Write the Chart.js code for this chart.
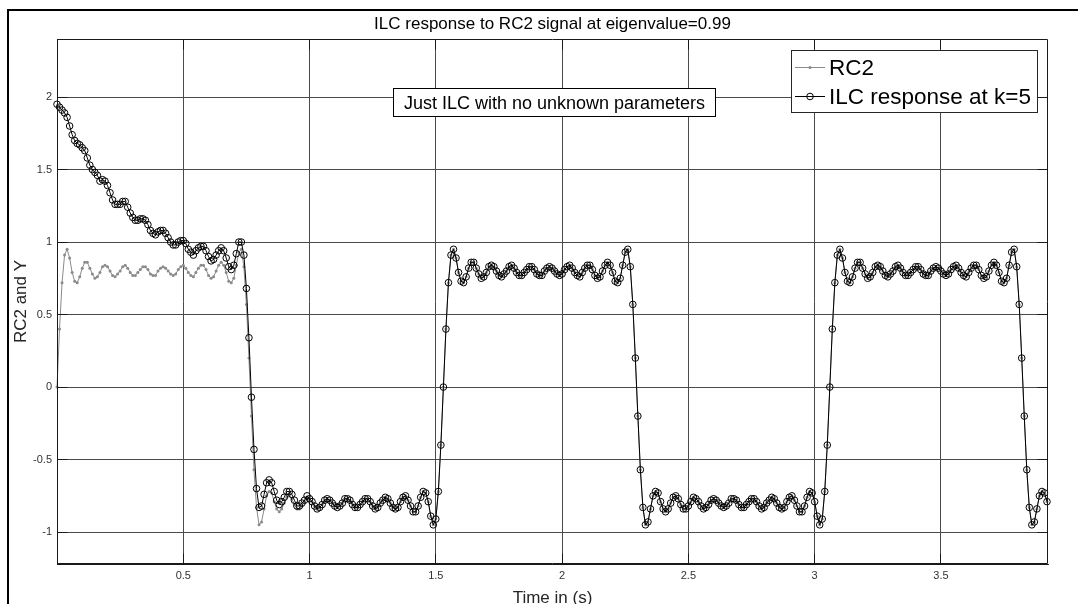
<!DOCTYPE html>
<html>
<head>
<meta charset="utf-8">
<script src="https://cdn.jsdelivr.net/npm/chart.js@4.4.1/dist/chart.umd.min.js"></script>
<style>
  html, body { margin: 0; padding: 0; background: #fff; }
  canvas { display: block; }
</style>
</head>
<body>
<canvas id="c" width="1078" height="604"></canvas>
<script>
// Sampling interval of both signals, in seconds
const sampleStep = 0.01;

// Reference signal RC2 (band-limited square wave), one value per sample
const rc2 = [
  0.00,0.40,0.72,0.91,0.95,0.89,0.79,0.73,0.72,0.76,
  0.82,0.86,0.86,0.82,0.78,0.75,0.76,0.79,0.83,0.84,
  0.83,0.80,0.77,0.76,0.78,0.80,0.83,0.84,0.82,0.79,
  0.77,0.77,0.79,0.81,0.83,0.83,0.81,0.78,0.77,0.77,
  0.80,0.82,0.83,0.82,0.80,0.78,0.77,0.78,0.81,0.83,
  0.84,0.82,0.79,0.77,0.76,0.79,0.82,0.84,0.84,0.81,
  0.77,0.75,0.76,0.80,0.84,0.86,0.84,0.79,0.73,0.72,
  0.75,0.84,0.93,0.95,0.83,0.57,0.20,
  -0.20,-0.57,-0.83,-0.95,-0.93,-0.84,-0.75,-0.72,-0.73,-0.79,
  -0.84,-0.86,-0.84,-0.80,-0.76,-0.75,-0.77,-0.81,-0.84,-0.84,
  -0.82,-0.79,-0.76,-0.77,-0.79,-0.82,-0.84,-0.83,-0.81,-0.78,
  -0.77,-0.78,-0.80,-0.82,-0.83,-0.82,-0.80,-0.77,-0.77,-0.78,
  -0.81,-0.83,-0.83,-0.81,-0.79,-0.77,-0.77,-0.79,-0.82,-0.84,
  -0.83,-0.80,-0.78,-0.76,-0.77,-0.80,-0.83,-0.84,-0.83,-0.79,
  -0.76,-0.75,-0.78,-0.82,-0.86,-0.86,-0.82,-0.76,-0.72,-0.73,
  -0.79,-0.89,-0.95,-0.91,-0.72,-0.40,
  0.00,0.40,0.72,0.91,0.95,0.89,0.79,0.73,0.72,0.76,
  0.82,0.86,0.86,0.82,0.78,0.75,0.76,0.79,0.83,0.84,
  0.83,0.80,0.77,0.76,0.78,0.80,0.83,0.84,0.82,0.79,
  0.77,0.77,0.79,0.81,0.83,0.83,0.81,0.78,0.77,0.77,
  0.80,0.82,0.83,0.82,0.80,0.78,0.77,0.78,0.81,0.83,
  0.84,0.82,0.79,0.77,0.76,0.79,0.82,0.84,0.84,0.81,
  0.77,0.75,0.76,0.80,0.84,0.86,0.84,0.79,0.73,0.72,
  0.75,0.84,0.93,0.95,0.83,0.57,0.20,
  -0.20,-0.57,-0.83,-0.95,-0.93,-0.84,-0.75,-0.72,-0.73,-0.79,
  -0.84,-0.86,-0.84,-0.80,-0.76,-0.75,-0.77,-0.81,-0.84,-0.84,
  -0.82,-0.79,-0.76,-0.77,-0.79,-0.82,-0.84,-0.83,-0.81,-0.78,
  -0.77,-0.78,-0.80,-0.82,-0.83,-0.82,-0.80,-0.77,-0.77,-0.78,
  -0.81,-0.83,-0.83,-0.81,-0.79,-0.77,-0.77,-0.79,-0.82,-0.84,
  -0.83,-0.80,-0.78,-0.76,-0.77,-0.80,-0.83,-0.84,-0.83,-0.79,
  -0.76,-0.75,-0.78,-0.82,-0.86,-0.86,-0.82,-0.76,-0.72,-0.73,
  -0.79,-0.89,-0.95,-0.91,-0.72,-0.40,
  0.00,0.40,0.72,0.91,0.95,0.89,0.79,0.73,0.72,0.76,
  0.82,0.86,0.86,0.82,0.78,0.75,0.76,0.79,0.83,0.84,
  0.83,0.80,0.77,0.76,0.78,0.80,0.83,0.84,0.82,0.79,
  0.77,0.77,0.79,0.81,0.83,0.83,0.81,0.78,0.77,0.77,
  0.80,0.82,0.83,0.82,0.80,0.78,0.77,0.78,0.81,0.83,
  0.84,0.82,0.79,0.77,0.76,0.79,0.82,0.84,0.84,0.81,
  0.77,0.75,0.76,0.80,0.84,0.86,0.84,0.79,0.73,0.72,
  0.75,0.84,0.93,0.95,0.83,0.57,0.20,
  -0.20,-0.57,-0.83,-0.95,-0.93,-0.84,-0.75,-0.72,-0.73,-0.79
];

// ILC output after 5 iterations, one value per sample
const ilc = [
  1.95,1.93,1.91,1.89,1.86,1.80,1.74,1.70,1.68,1.67,
  1.65,1.63,1.58,1.53,1.50,1.48,1.46,1.42,1.43,1.42,
  1.39,1.34,1.29,1.26,1.26,1.26,1.28,1.28,1.24,1.20,
  1.17,1.15,1.15,1.16,1.16,1.15,1.12,1.08,1.06,1.05,
  1.07,1.08,1.08,1.06,1.03,1.00,0.98,0.98,1.00,1.01,
  1.01,0.99,0.95,0.93,0.91,0.94,0.96,0.97,0.97,0.94,
  0.90,0.87,0.88,0.91,0.94,0.96,0.94,0.89,0.83,0.81,
  0.84,0.92,1.00,1.00,0.91,0.68,0.34,-0.07,-0.43,-0.70,
  -0.83,-0.82,-0.74,-0.66,-0.64,-0.66,-0.72,-0.78,-0.81,-0.79,
  -0.76,-0.72,-0.72,-0.74,-0.78,-0.82,-0.82,-0.80,-0.78,-0.75,
  -0.77,-0.79,-0.82,-0.84,-0.83,-0.81,-0.78,
  -0.77,-0.78,-0.80,-0.82,-0.83,-0.82,-0.80,-0.77,-0.77,-0.78,
  -0.81,-0.83,-0.83,-0.81,-0.79,-0.77,-0.77,-0.79,-0.82,-0.84,
  -0.83,-0.80,-0.78,-0.76,-0.77,-0.80,-0.83,-0.84,-0.83,-0.79,
  -0.76,-0.75,-0.78,-0.82,-0.86,-0.86,-0.82,-0.76,-0.72,-0.73,
  -0.79,-0.89,-0.95,-0.91,-0.72,-0.40,
  0.00,0.40,0.72,0.91,0.95,0.89,0.79,0.73,0.72,0.76,
  0.82,0.86,0.86,0.82,0.78,0.75,0.76,0.79,0.83,0.84,
  0.83,0.80,0.77,0.76,0.78,0.80,0.83,0.84,0.82,0.79,
  0.77,0.77,0.79,0.81,0.83,0.83,0.81,0.78,0.77,0.77,
  0.80,0.82,0.83,0.82,0.80,0.78,0.77,0.78,0.81,0.83,
  0.84,0.82,0.79,0.77,0.76,0.79,0.82,0.84,0.84,0.81,
  0.77,0.75,0.76,0.80,0.84,0.86,0.84,0.79,0.73,0.72,
  0.75,0.84,0.93,0.95,0.83,0.57,0.20,
  -0.20,-0.57,-0.83,-0.95,-0.93,-0.84,-0.75,-0.72,-0.73,-0.79,
  -0.84,-0.86,-0.84,-0.80,-0.76,-0.75,-0.77,-0.81,-0.84,-0.84,
  -0.82,-0.79,-0.76,-0.77,-0.79,-0.82,-0.84,-0.83,-0.81,-0.78,
  -0.77,-0.78,-0.80,-0.82,-0.83,-0.82,-0.80,-0.77,-0.77,-0.78,
  -0.81,-0.83,-0.83,-0.81,-0.79,-0.77,-0.77,-0.79,-0.82,-0.84,
  -0.83,-0.80,-0.78,-0.76,-0.77,-0.80,-0.83,-0.84,-0.83,-0.79,
  -0.76,-0.75,-0.78,-0.82,-0.86,-0.86,-0.82,-0.76,-0.72,-0.73,
  -0.79,-0.89,-0.95,-0.91,-0.72,-0.40,
  0.00,0.40,0.72,0.91,0.95,0.89,0.79,0.73,0.72,0.76,
  0.82,0.86,0.86,0.82,0.78,0.75,0.76,0.79,0.83,0.84,
  0.83,0.80,0.77,0.76,0.78,0.80,0.83,0.84,0.82,0.79,
  0.77,0.77,0.79,0.81,0.83,0.83,0.81,0.78,0.77,0.77,
  0.80,0.82,0.83,0.82,0.80,0.78,0.77,0.78,0.81,0.83,
  0.84,0.82,0.79,0.77,0.76,0.79,0.82,0.84,0.84,0.81,
  0.77,0.75,0.76,0.80,0.84,0.86,0.84,0.79,0.73,0.72,
  0.75,0.84,0.93,0.95,0.83,0.57,0.20,
  -0.20,-0.57,-0.83,-0.95,-0.93,-0.84,-0.75,-0.72,-0.73,-0.79
];

// Axis ticks and limits
const xTicks = [0.5, 1, 1.5, 2, 2.5, 3, 3.5];
const yTicks = [-1, -0.5, 0, 0.5, 1, 1.5, 2];
const xRange = [0, 3.924];
const yRange = [-1.22, 2.4];

// Texts
const titleText = 'ILC response to RC2 signal at eigenvalue=0.99';
const xLabel = 'Time in (s)';
const yLabel = 'RC2 and Y';
const seriesNames = ['RC2', 'ILC response at k=5'];
const noteText = 'Just ILC with no unknown parameters';

const FONT = '"Liberation Sans", Arial, Helvetica, sans-serif';
const RC2_COLOR = '#8a8a8a';
const ILC_COLOR = '#000000';

const toPoints = vals => vals.map((v, i) => ({ x: Math.round(i * sampleStep * 100) / 100, y: v }));
const align = p => Math.round(p - 0.5) + 0.5;

// Axes box, inward tick marks, title, axis labels, note box and legend
const decor = {
  id: 'decor',
  afterDatasetsDraw(chart) {
    const { ctx, chartArea: a } = chart;
    const xs = chart.scales.x, ys = chart.scales.y;
    const L = align(a.left), R = align(a.right - 1), T = align(a.top), B = align(a.bottom - 1);
    const tl = 10;
    ctx.save();
    ctx.strokeStyle = '#1a1a1a';
    ctx.lineWidth = 1;
    ctx.beginPath();
    ctx.rect(L, T, R - L, B - T);
    yTicks.forEach(v => {
      const py = align(ys.getPixelForValue(v));
      ctx.moveTo(L, py); ctx.lineTo(L + tl, py);
      ctx.moveTo(R, py); ctx.lineTo(R - tl, py);
    });
    xTicks.forEach(v => {
      const px = align(xs.getPixelForValue(v));
      ctx.moveTo(px, B); ctx.lineTo(px, B - tl);
      ctx.moveTo(px, T); ctx.lineTo(px, T + tl);
    });
    ctx.stroke();
    ctx.restore();
  },
  afterDraw(chart) {
    const { ctx, chartArea: a } = chart;
    const cx = (a.left + a.right) / 2;
    const cy = (a.top + a.bottom) / 2;
    ctx.save();

    // figure frame
    ctx.fillStyle = '#000';
    ctx.fillRect(7, 9, chart.width - 7, 2);
    ctx.fillRect(7, 9, 2, chart.height - 9);

    // title and axis labels
    ctx.fillStyle = '#000';
    ctx.textAlign = 'center';
    ctx.textBaseline = 'alphabetic';
    ctx.font = `17px ${FONT}`;
    ctx.fillText(titleText, cx, 29);
    ctx.fillStyle = '#262626';
    ctx.fillText(xLabel, cx, 603);
    ctx.save();
    ctx.translate(26, cy);
    ctx.rotate(-Math.PI / 2);
    ctx.fillText(yLabel, 0, 0);
    ctx.restore();

    // note box
    ctx.fillStyle = '#fff';
    ctx.fillRect(393.5, 88.5, 322, 28);
    ctx.strokeStyle = '#000';
    ctx.lineWidth = 1;
    ctx.strokeRect(393.5, 88.5, 322, 28);
    ctx.fillStyle = '#000';
    ctx.font = `18px ${FONT}`;
    ctx.fillText(noteText, 554.5, 109);

    // legend
    const lx = 791.5, ly = 50.5, lw = 246, lh = 62;
    ctx.fillStyle = '#fff';
    ctx.fillRect(lx, ly, lw, lh);
    ctx.strokeStyle = '#262626';
    ctx.strokeRect(lx, ly, lw, lh);
    const rows = [67, 96];
    ctx.font = `22.5px ${FONT}`;
    ctx.textAlign = 'left';
    // RC2 entry
    ctx.strokeStyle = RC2_COLOR;
    ctx.beginPath(); ctx.moveTo(795, rows[0] + 0.5); ctx.lineTo(825, rows[0] + 0.5); ctx.stroke();
    ctx.fillStyle = RC2_COLOR;
    ctx.beginPath(); ctx.arc(810, rows[0] + 0.5, 1.6, 0, Math.PI * 2); ctx.fill();
    // ILC entry
    ctx.strokeStyle = ILC_COLOR;
    ctx.beginPath(); ctx.moveTo(795, rows[1] + 0.5); ctx.lineTo(825, rows[1] + 0.5); ctx.stroke();
    ctx.beginPath(); ctx.arc(810, rows[1] + 0.5, 3.3, 0, Math.PI * 2); ctx.stroke();
    ctx.fillStyle = '#000';
    ctx.fillText(seriesNames[0], 829, rows[0] + 8);
    ctx.fillText(seriesNames[1], 829, rows[1] + 8);

    ctx.restore();
  }
};

new Chart(document.getElementById('c'), {
  type: 'scatter',
  data: {
    datasets: [
      {
        label: seriesNames[1],
        data: toPoints(ilc),
        showLine: true,
        borderColor: ILC_COLOR,
        borderWidth: 1,
        pointRadius: 3.3,
        pointBorderColor: ILC_COLOR,
        pointBorderWidth: 1,
        pointBackgroundColor: 'rgba(0,0,0,0)',
        order: 0,
        clip: 5
      },
      {
        label: seriesNames[0],
        data: toPoints(rc2),
        showLine: true,
        borderColor: RC2_COLOR,
        borderWidth: 1,
        pointRadius: 1.5,
        pointBorderWidth: 0,
        pointBackgroundColor: RC2_COLOR,
        order: 1,
        clip: 5
      }
    ]
  },
  options: {
    responsive: false,
    animation: false,
    devicePixelRatio: 1,
    events: [],
    layout: { padding: { left: 0, top: 39, right: 30, bottom: 0 } },
    plugins: {
      legend: { display: false },
      tooltip: { enabled: false },
      title: { display: false }
    },
    scales: {
      x: {
        type: 'linear',
        min: xRange[0],
        max: xRange[1],
        afterFit: s => { s.height = 40; },
        afterBuildTicks: s => { s.ticks = xTicks.map(v => ({ value: v })); },
        grid: { color: '#4a4a4a', lineWidth: 1, drawTicks: false },
        border: { display: true, color: '#1a1a1a' },
        ticks: {
          padding: 5,
          color: '#333333',
          font: { family: FONT, size: 11 },
          maxRotation: 0,
          autoSkip: false,
          callback: v => String(v)
        }
      },
      y: {
        type: 'linear',
        min: yRange[0],
        max: yRange[1],
        afterFit: s => { s.width = 57; },
        afterBuildTicks: s => { s.ticks = yTicks.map(v => ({ value: v })); },
        grid: { color: '#4a4a4a', lineWidth: 1, drawTicks: false },
        border: { display: true, color: '#1a1a1a' },
        ticks: {
          padding: 5,
          color: '#333333',
          font: { family: FONT, size: 11 },
          autoSkip: false,
          callback: v => String(v)
        }
      }
    }
  },
  plugins: [decor]
});
</script>
</body>
</html>
